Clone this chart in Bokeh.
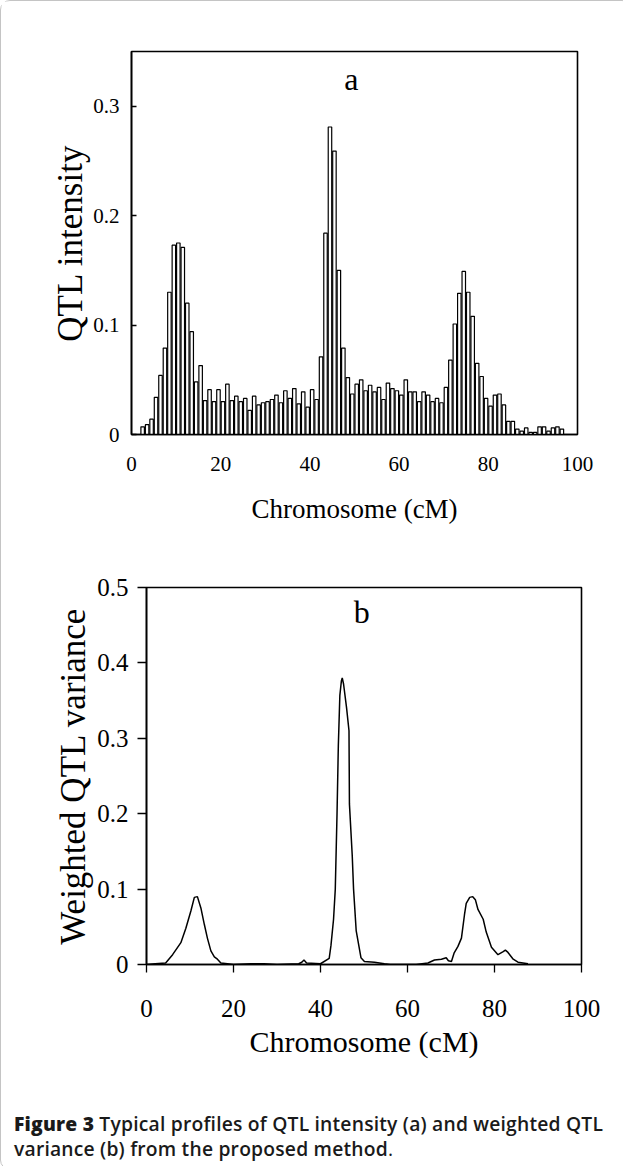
from bokeh.plotting import figure
from bokeh.layouts import column, row
from bokeh.models import Div, Label, FixedTicker, Range1d
from bokeh.embed import file_html
from bokeh.resources import INLINE

# ---------------- data ----------------
# Panel a: QTL intensity per 1-cM bin (bin start positions, cM)
bin_start = list(range(2, 97))
qtl_intensity = [
    0.007, 0.009, 0.014, 0.034, 0.054, 0.079, 0.130, 0.173, 0.175, 0.171,
    0.120, 0.094, 0.048, 0.063, 0.031, 0.041, 0.030, 0.041, 0.030, 0.046,
    0.031, 0.035, 0.030, 0.033, 0.022, 0.035, 0.027, 0.029, 0.030, 0.032,
    0.036, 0.029, 0.040, 0.033, 0.042, 0.028, 0.039, 0.025, 0.041, 0.032,
    0.071, 0.184, 0.281, 0.259, 0.150, 0.079, 0.052, 0.037, 0.046, 0.050,
    0.040, 0.045, 0.039, 0.043, 0.032, 0.047, 0.042, 0.040, 0.036, 0.050,
    0.039, 0.039, 0.030, 0.039, 0.036, 0.030, 0.033, 0.029, 0.043, 0.068,
    0.101, 0.129, 0.149, 0.130, 0.108, 0.065, 0.053, 0.033, 0.026, 0.036,
    0.037, 0.027, 0.012, 0.012, 0.005, 0.003, 0.006, 0.002, 0.002, 0.007,
    0.007, 0.003, 0.006, 0.007, 0.005,
]

# Panel b: weighted QTL variance profile
b_cm = [0, 2, 4.4, 6.0, 7.9, 9.05, 10.2, 11.0, 11.7, 12.5, 13.3, 14.0, 14.8,
        15.6, 16.3, 17.1, 18.6, 20, 24, 27, 30, 35, 35.7, 36.2, 36.8, 40,
        42.0, 42.4, 43.0, 43.4, 43.8, 44.1, 44.45, 44.8, 45.0, 45.3, 46.0,
        46.55, 46.65, 47.3, 47.6, 48.2, 49.3, 50.1, 52.4, 54.7, 56, 62, 64.7,
        66.2, 67.8, 68.9, 69.4, 70.1, 70.7, 71.6, 72.4, 73.1, 73.5, 74.3,
        75.0, 75.6, 76.2, 77.4, 78.1, 79.3, 80.8, 82.0, 82.5, 83.1, 84.3,
        85.4, 87.7]
b_var = [0, 0.001, 0.002, 0.013, 0.029, 0.048, 0.071, 0.089, 0.090, 0.075,
         0.053, 0.035, 0.018, 0.010, 0.007, 0.002, 0.001, 0, 0.001, 0.001, 0,
         0.001, 0.003, 0.006, 0.002, 0.001, 0.008, 0.025, 0.060, 0.100, 0.200,
         0.290, 0.357, 0.376, 0.380, 0.372, 0.340, 0.310, 0.213, 0.144, 0.100,
         0.045, 0.009, 0.004, 0.003, 0.001, 0, 0, 0.002, 0.006, 0.007, 0.009,
         0.005, 0.004, 0.015, 0.024, 0.035, 0.066, 0.081, 0.089, 0.090, 0.086,
         0.073, 0.060, 0.043, 0.023, 0.013, 0.017, 0.019, 0.016, 0.007, 0.003,
         0.001]

x_ticks = [0, 20, 40, 60, 80, 100]
ya_ticks = [0, 0.1, 0.2, 0.3]
yb_ticks = [0, 0.1, 0.2, 0.3, 0.4, 0.5]

SERIF = "Liberation Serif"


def style_axes(p, tick_size, xlab_size, ylab_size):
    p.xgrid.visible = False
    p.ygrid.visible = False
    p.outline_line_color = "black"
    p.outline_line_width = 1.6
    p.outline_line_alpha = 1.0
    for ax in (p.xaxis[0], p.yaxis[0]):
        ax.axis_line_color = "black"
        ax.axis_line_width = 1.6
        ax.major_tick_line_color = "black"
        ax.major_tick_line_width = 1.3
        ax.minor_tick_line_color = None
        ax.major_label_text_font = SERIF
        ax.major_label_text_color = "black"
        ax.major_label_text_font_size = tick_size
        ax.axis_label_text_font = SERIF
        ax.axis_label_text_font_style = "normal"
        ax.axis_label_text_color = "black"
    p.xaxis[0].axis_label_text_font_size = xlab_size
    p.yaxis[0].axis_label_text_font_size = ylab_size


# ---------------- panel a ----------------
pa = figure(width=620, height=560,
            x_range=Range1d(0, 100), y_range=Range1d(0, 0.35),
            min_border_left=130, min_border_right=44,
            min_border_top=50, min_border_bottom=127,
            output_backend="svg", toolbar_location=None)
centers = [s + 0.5 for s in bin_start]
pa.vbar(x=centers, top=qtl_intensity, width=0.78, bottom=0,
        fill_color="white", line_color="black", line_width=1.2)
style_axes(pa, "21px", "27px", "35px")
pa.xaxis.ticker = FixedTicker(ticks=x_ticks)
pa.yaxis.ticker = FixedTicker(ticks=ya_ticks)
pa.yaxis.major_label_overrides = {0: "0"}
pa.xaxis.major_tick_in = 0
pa.xaxis.major_tick_out = 0
pa.xaxis.major_label_standoff = 22
pa.xaxis.axis_label = "Chromosome (cM)"
pa.xaxis.axis_label_standoff = 20
pa.yaxis.major_tick_in = 5
pa.yaxis.major_tick_out = 0
pa.yaxis.major_label_standoff = 12
pa.yaxis.axis_label = "QTL intensity"
pa.yaxis.axis_label_standoff = 0
pa.add_layout(Label(x=49.3, y=0.325, text="a", text_font=SERIF,
                    text_font_size="32px", text_align="center",
                    text_baseline="middle", text_color="black"))

# ---------------- panel b ----------------
pb = figure(width=620, height=540,
            x_range=Range1d(0, 100), y_range=Range1d(0, 0.5),
            min_border_left=145, min_border_right=40,
            min_border_top=26, min_border_bottom=137,
            output_backend="svg", toolbar_location=None)
pb.line(b_cm, b_var, line_color="black", line_width=1.5)
style_axes(pb, "25px", "30px", "35px")
pb.xaxis.ticker = FixedTicker(ticks=x_ticks)
pb.yaxis.ticker = FixedTicker(ticks=yb_ticks)
pb.yaxis.major_label_overrides = {0: "0"}
pb.xaxis.major_tick_in = 0
pb.xaxis.major_tick_out = 8
pb.xaxis.major_label_standoff = 27
pb.xaxis.axis_label = "Chromosome (cM)"
pb.xaxis.axis_label_standoff = 5
pb.yaxis.major_tick_in = 0
pb.yaxis.major_tick_out = 9
pb.yaxis.major_label_standoff = 9
pb.yaxis.axis_label = "Weighted QTL variance"
pb.yaxis.axis_label_standoff = 1
pb.add_layout(Label(x=49.5, y=0.468, text="b", text_font=SERIF,
                    text_font_size="32px", text_align="center",
                    text_baseline="middle", text_color="black"))

# ---------------- caption ----------------
caption = Div(
    text=('<div style="font-family:\'Open Sans\',sans-serif;font-size:19.3px;'
          'line-height:25px;color:#1a1a1a;font-weight:600;padding-left:8px;'
          'padding-top:5px;white-space:nowrap;letter-spacing:0.2px;">'
          '<span style="font-weight:800;">Figure 3</span> Typical profiles of '
          'QTL intensity (a) and weighted QTL<br>variance (b) from the proposed '
          'method<span style="font-weight:400;">.</span></div>'),
    width=620, height=58)

layout = column(row(pa), row(pb), caption,
                styles={"border": "1px solid #c4c4c4",
                        "border-radius": "10px"})
open("out.html", "w").write(file_html(layout, INLINE))
